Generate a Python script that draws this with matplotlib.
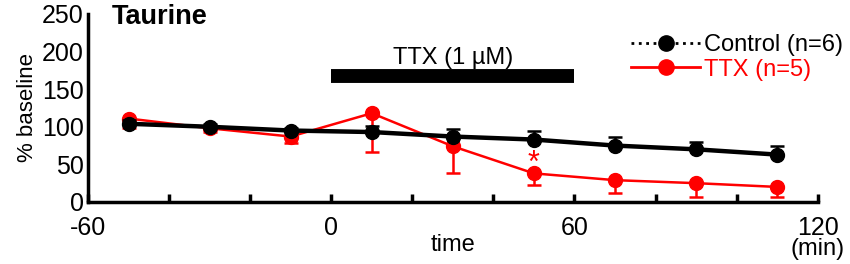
import matplotlib
matplotlib.use("Agg")
import matplotlib.pyplot as plt
from matplotlib.lines import Line2D

plt.rcParams['font.family'] = ['Liberation Sans', 'DejaVu Sans']
plt.rcParams['axes.unicode_minus'] = False

time = [-50, -30, -10, 10, 30, 50, 70, 90, 110]
control = [104, 100, 95, 93, 87, 83, 75, 70, 63]
control_err = [5, 4, 4, 8, 10, 12, 12, 10, 12]
ttx = [111, 98, 87, 118, 74, 38, 29, 25, 20]
ttx_err = [12, 5, 9, 51, 35, 16, 17, 18, 14]
xticks_major = [-60, 0, 60, 120]
xticks_minor = [-40, -20, 20, 40, 80, 100]
yticks = [0, 50, 100, 150, 200, 250]

fig = plt.figure(figsize=(8.5, 2.64), dpi=100)
ax = fig.add_axes([0.1035, 0.235, 0.8585, 0.712])

ax.errorbar(time, ttx, yerr=[ttx_err, [0]*len(ttx_err)], color='#ff0000', lw=1.8,
            marker='o', ms=10, capsize=5, elinewidth=1.8, capthick=1.8, zorder=3)
ax.errorbar(time, control, yerr=[[0]*len(control_err), control_err], color='black', lw=3.2,
            marker='o', ms=10, capsize=5, elinewidth=1.8, capthick=1.8, zorder=4)

ax.text(50, 51, '*', color='#ff0000', ha='center', va='center', fontsize=22)

# TTX application bar
ax.plot([0, 60], [167, 167], color='black', lw=10, solid_capstyle='butt', clip_on=False)
ax.text(30, 177, 'TTX (1 µM)', ha='center', va='bottom', fontsize=17)

ax.set_xlim(-60, 120)
ax.set_ylim(0, 250)
ax.set_xticks(xticks_major)
ax.set_xticks(xticks_minor, minor=True)
ax.set_yticks(yticks)
ax.tick_params(axis='x', which='both', direction='in', length=6, width=2.5, labelsize=18, pad=10)
ax.tick_params(axis='y', which='both', length=0, labelsize=18, pad=3)
for s in ['top', 'right']:
    ax.spines[s].set_visible(False)
for s in ['left', 'bottom']:
    ax.spines[s].set_linewidth(2.5)

ax.set_ylabel('% baseline', fontsize=16, labelpad=3)
ax.set_xlabel('time', fontsize=17, labelpad=-4)
ax.text(120, -48, '(min)', ha='center', va='top', fontsize=17, clip_on=False)
ax.text(-54.2, 246, 'Taurine', fontsize=19.5, fontweight='bold', va='center', ha='left')

handles = [Line2D([], [], color='black', ls=':', lw=2, marker='o', ms=11),
           Line2D([], [], color='#ff0000', ls='-', lw=2, marker='o', ms=11)]
leg = ax.legend(handles, ['Control (n=6)', 'TTX (n=5)'], loc='upper right',
                bbox_to_anchor=(1.058, 0.98), frameon=False, fontsize=17,
                handlelength=2.9, handletextpad=0.2, labelspacing=0.1, borderpad=0.2)
leg.get_texts()[1].set_color('#ff0000')

fig.savefig('out.png', dpi=100)
